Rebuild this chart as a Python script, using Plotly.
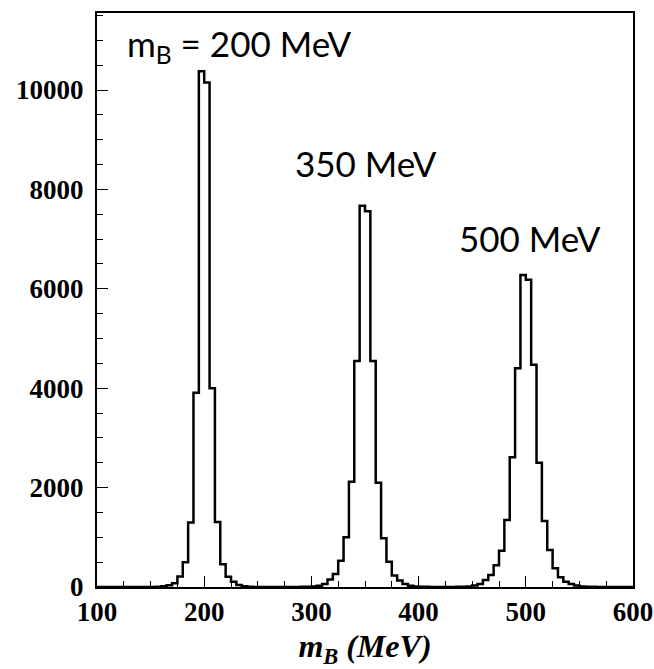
import plotly.graph_objects as go

# Histogram: 5 MeV bins from 100 to 600 MeV
bin_width = 5
x_min, x_max = 100, 600

# Peak at 200 MeV: counts for bins starting at 150 MeV
peak200_start = 150
peak200_counts = [2, 5, 14, 35, 75, 210, 497, 1300, 3910, 10380, 10150, 4000,
                  1310, 460, 205, 105, 40, 14, 5, 2]
# Peak at 350 MeV: counts for bins starting at 290 MeV
peak350_start = 290
peak350_counts = [3, 5, 10, 25, 60, 150, 260, 530, 1000, 2120, 4550, 7670, 7560,
                  4550, 2100, 980, 510, 230, 130, 60, 25, 10, 5, 3]
# Peak at 500 MeV: counts for bins starting at 430 MeV
peak500_start = 430
peak500_counts = [2, 3, 5, 12, 30, 60, 140, 240, 440, 730, 1350, 2610, 4400, 6280,
                  6180, 4470, 2500, 1330, 744, 376, 195, 107, 60, 30, 12, 5, 3, 2]

x_tick_vals = [100, 200, 300, 400, 500, 600]
y_tick_vals = [0, 2000, 4000, 6000, 8000, 10000]

labels = ["m<sub>B</sub> = 200 MeV", "350 MeV", "500 MeV"]
label_x = [126, 283, 436]
label_y = [10900, 8530, 7020]

# Build full histogram
n_bins = (x_max - x_min) // bin_width
edges = [x_min + i * bin_width for i in range(n_bins + 1)]
counts = [0] * n_bins
for start, vals in [(peak200_start, peak200_counts),
                    (peak350_start, peak350_counts),
                    (peak500_start, peak500_counts)]:
    i0 = (start - x_min) // bin_width
    for k, v in enumerate(vals):
        counts[i0 + k] += v

xs = edges
ys = counts + [counts[-1]]

fig = go.Figure()
fig.add_trace(go.Scatter(x=xs, y=ys, mode="lines", line_shape="hv",
                         line=dict(color="black", width=2.5),
                         showlegend=False, hoverinfo="skip"))

for t, lx, ly in zip(labels, label_x, label_y):
    fig.add_annotation(x=lx, y=ly, xref="x", yref="y", text=t, showarrow=False,
                       xanchor="left", yanchor="middle",
                       font=dict(family="Lato", size=35, color="black"))

tickfont = dict(family="Liberation Serif", size=27, color="black", weight="bold")

fig.update_xaxes(range=[x_min, x_max], tickvals=x_tick_vals,
                 ticktext=[f"<b>{v}</b>" for v in x_tick_vals],
                 ticks="inside", ticklen=11, tickwidth=1, tickcolor="black",
                 minor=dict(dtick=25, ticks="inside", ticklen=6, tickwidth=1, tickcolor="black"),
                 showline=True, linecolor="black", linewidth=2, mirror=True,
                 showgrid=False, zeroline=False, tickfont=tickfont, automargin=False,
                 title=dict(text="<b><i>m<sub>B</sub> (MeV)</i></b>",
                            font=dict(family="Liberation Serif", size=32, color="black"),
                            standoff=12))
fig.update_yaxes(range=[0, 11550], tickvals=y_tick_vals,
                 ticktext=[f"<b>{v}</b>" for v in y_tick_vals],
                 ticks="inside", ticklen=11, tickwidth=1, tickcolor="black",
                 minor=dict(dtick=500, ticks="inside", ticklen=6, tickwidth=1, tickcolor="black"),
                 showline=True, linecolor="black", linewidth=2, mirror=True,
                 showgrid=False, zeroline=False, tickfont=tickfont, automargin=False,
                 ticklabelstandoff=6)

fig.update_layout(width=654, height=669,
                  margin=dict(l=97, r=21, t=13, b=82),
                  paper_bgcolor="white", plot_bgcolor="white")

fig.write_html("out.html")
